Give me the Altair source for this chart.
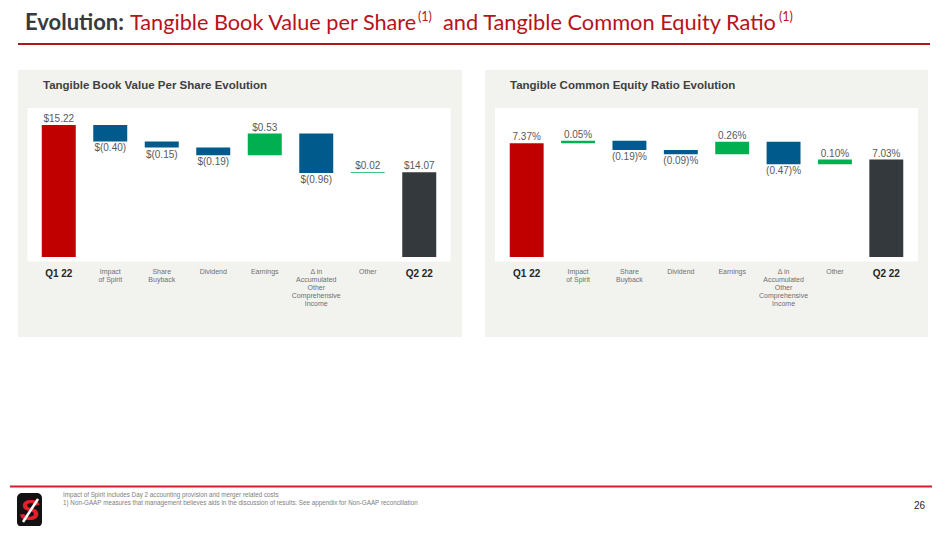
import pandas as pd
import altair as alt

# categories along the waterfall ("|" marks a line break in the label)
steps = ["Q1 22", "Impact|of Spirit", "Share|Buyback", "Dividend", "Earnings",
         "Δ in|Accumulated|Other|Comprehensive|Income", "Other", "Q2 22"]
kinds = ["start", "step", "step", "step", "step", "step", "step", "end"]

# tangible book value per share ($) and tangible common equity ratio (%)
tbv_values = [15.22, -0.40, -0.15, -0.19, 0.53, -0.96, 0.02, 14.07]
tce_values = [7.37, 0.05, -0.19, -0.09, 0.26, -0.47, 0.10, 7.03]

footnotes = [
    "Impact of Spirit includes Day 2 accounting provision and merger related costs",
    "1)   Non-GAAP measures that management believes aids in the discussion of results. "
    "See appendix for Non-GAAP reconciliation",
]

RED = "#C00000"
BLUE = "#005A8C"
GREEN = "#00B050"
DARK = "#33393D"
PANEL = "#F2F2EF"
ARIAL = "Liberation Sans"


def fmt_dollar(v):
    return f"${v:.2f}" if v >= 0 else f"$({abs(v):.2f})"


def fmt_pct(v):
    return f"{v:.2f}%" if v >= 0 else f"({abs(v):.2f})%"


def waterfall_table(values, fmt):
    rows = []
    level = 0.0
    for cat, kind, v in zip(steps, kinds, values):
        if kind == "step":
            lo, hi = level, level + v
            level = hi
            tone = "up" if v >= 0 else "down"
        else:
            lo, hi = 0.0, v
            level = v
            tone = kind
        rows.append({
            "cat": cat, "kind": kind, "lo": lo, "hi": hi, "tone": tone,
            "top": max(lo, hi), "bottom": min(lo, hi),
            "above": v >= 0, "label": fmt(v),
        })
    return pd.DataFrame(rows)


def waterfall(df, x_range, y_domain, y_range):
    xs = alt.X("cat:N", sort=steps, axis=None,
               scale=alt.Scale(range=x_range, paddingInner=0.34, paddingOuter=0.17))
    ys = alt.Scale(domain=y_domain, range=y_range, clamp=True, zero=False, nice=False)
    base = alt.Chart(df).encode(x=xs)

    bars = base.mark_bar().encode(
        y=alt.Y("lo:Q", scale=ys, axis=None),
        y2="hi:Q",
        color=alt.Color("tone:N", legend=None,
                        scale=alt.Scale(domain=["start", "end", "up", "down"],
                                        range=[RED, DARK, GREEN, BLUE])),
    )
    up = base.transform_filter("datum.above").mark_text(
        baseline="bottom", dy=-1, fontSize=10, font=ARIAL, color="#595959"
    ).encode(y=alt.Y("top:Q", scale=ys, axis=None), text="label:N")
    down = base.transform_filter("!datum.above").mark_text(
        baseline="top", dy=2, fontSize=10, font=ARIAL, color="#595959"
    ).encode(y=alt.Y("bottom:Q", scale=ys, axis=None), text="label:N")

    totals = base.transform_filter("datum.kind != 'step'").mark_text(
        baseline="top", fontSize=10, fontWeight="bold", font=ARIAL, color="#262626"
    ).encode(y=alt.value(261), text="cat:N")
    names = base.transform_filter("datum.kind == 'step'").mark_text(
        baseline="top", fontSize=7, lineHeight=8, lineBreak="|", font=ARIAL, color="#707070"
    ).encode(y=alt.value(260), text="cat:N")
    return alt.layer(bars, up, down, totals, names)


one = pd.DataFrame({"k": [0]})


def box(x, x2, y, y2, color, **kw):
    return alt.Chart(one).mark_rect(color=color, **kw).encode(
        x=alt.value(x), x2=alt.value(x2), y=alt.value(y), y2=alt.value(y2))


def line(x, x2, y, y2, color, width):
    return alt.Chart(one).mark_rule(color=color, strokeWidth=width).encode(
        x=alt.value(x), x2=alt.value(x2), y=alt.value(y), y2=alt.value(y2))


def label(text, x, y, **kw):
    kw.setdefault("align", "left")
    kw.setdefault("baseline", "alphabetic")
    return alt.Chart(one).mark_text(**kw).encode(
        x=alt.value(x), y=alt.value(y), text=alt.value(text))


TITLE_FONT = "Lato"
TITLE_RED = "#B8121B"
decor = [
    # slide title
    label("Evolution:", 17, 21.5, font=TITLE_FONT, fontSize=22, fontWeight="bold", color="#363B40"),
    label("Tangible Book Value per Share", 122, 21.5, font=TITLE_FONT, fontSize=21.7, color=TITLE_RED),
    label("(1)", 410, 12.5, font=TITLE_FONT, fontSize=12.5, color=TITLE_RED),
    label("and Tangible Common Equity Ratio", 435, 21.5, font=TITLE_FONT, fontSize=21.8, color=TITLE_RED),
    label("(1)", 771, 12.5, font=TITLE_FONT, fontSize=12.5, color=TITLE_RED),
    line(10, 922, 36, 36, "#B01820", 2),
    # panels
    box(10, 454, 62, 329, PANEL),
    box(19.5, 442.5, 100, 253.5, "white"),
    box(477, 920, 62, 329, PANEL),
    box(487, 910, 100, 253.5, "white"),
    label("Tangible Book Value Per Share Evolution", 35, 78, font=ARIAL, fontSize=11.5,
          fontWeight="bold", color="#404040", baseline="middle"),
    label("Tangible Common Equity Ratio Evolution", 502, 78, font=ARIAL, fontSize=11.5,
          fontWeight="bold", color="#404040", baseline="middle"),
    # footer
    line(2, 924, 478.5, 478.5, "#D0202A", 2),
    box(9, 34, 485, 519, "#121212", cornerRadius=5),
    label("S", 21.5, 503, font=ARIAL, fontSize=30, fontWeight="bold", fontStyle="italic",
          color="#E3202B", align="center", baseline="middle"),
    line(15, 30, 514, 491, "white", 2.5),
    label(footnotes[0], 55, 487, font=ARIAL, fontSize=6.3, color="#808080", baseline="middle"),
    label(footnotes[1], 55, 495, font=ARIAL, fontSize=6.3, color="#808080", baseline="middle"),
    label("26", 917, 498, font=ARIAL, fontSize=10, color="#262626", align="right",
          baseline="middle"),
]

left = waterfall(waterfall_table(tbv_values, fmt_dollar), [25, 437], [12, 16], [249, 85])
right = waterfall(waterfall_table(tce_values, fmt_pct), [493, 904], [5, 8], [249, 105])

chart = alt.layer(*decor, left, right).resolve_scale(
    x="independent", y="independent"
).properties(
    width=934, height=518, padding=0, background="white",
    autosize=alt.AutoSizeParams(type="none"),
).configure_view(stroke=None)

chart.save("out.html", embed_options={"renderer": "svg", "actions": False})
